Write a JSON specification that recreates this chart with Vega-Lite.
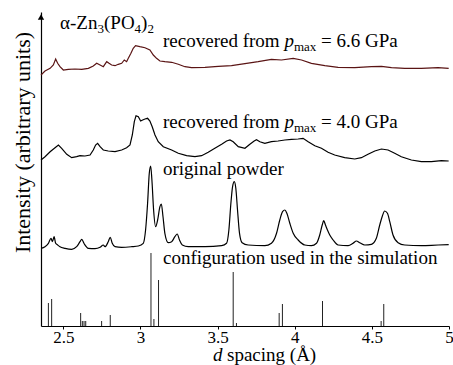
{
  "$schema": "https://vega.github.io/schema/vega-lite/v6.json",
  "width": 408,
  "height": 314,
  "autosize": {"type": "none"},
  "padding": {"left": 41, "top": 12, "right": 4, "bottom": 39},
  "background": "white",
  "config": {
    "view": {"stroke": null},
    "font": "Liberation Serif",
    "axis": {"labelFont": "Liberation Serif", "titleFont": "Liberation Serif", "domainColor": "black", "tickColor": "black", "labelColor": "black", "titleColor": "black"}
  },
  "datasets": {
    "p66": [
      {"d":2.355,"I":251},{"d":2.381,"I":255},{"d":2.414,"I":257.7},{"d":2.435,"I":261},{"d":2.450,"I":267},{"d":2.463,"I":262.7},{"d":2.478,"I":259.3},{"d":2.500,"I":256},{"d":2.532,"I":256.7},{"d":2.575,"I":257},{"d":2.619,"I":256.7},{"d":2.662,"I":257.7},{"d":2.694,"I":260},{"d":2.716,"I":262.7},{"d":2.738,"I":261},{"d":2.759,"I":259.3},{"d":2.781,"I":264.3},{"d":2.796,"I":262.7},{"d":2.813,"I":261},{"d":2.835,"I":260.3},{"d":2.856,"I":261.7},{"d":2.878,"I":262.7},{"d":2.895,"I":266},{"d":2.910,"I":264.3},{"d":2.921,"I":267.7},{"d":2.938,"I":272.7},{"d":2.953,"I":277.7},{"d":2.968,"I":280.3},{"d":2.996,"I":279.3},{"d":3.029,"I":278.3},{"d":3.061,"I":276},{"d":3.083,"I":271},{"d":3.104,"I":267.7},{"d":3.126,"I":265},{"d":3.158,"I":264.3},{"d":3.202,"I":263.7},{"d":3.245,"I":261.7},{"d":3.288,"I":259.3},{"d":3.331,"I":258.3},{"d":3.418,"I":258.7},{"d":3.504,"I":259.7},{"d":3.590,"I":260.3},{"d":3.677,"I":262.3},{"d":3.763,"I":264.3},{"d":3.849,"I":266.7},{"d":3.914,"I":266},{"d":3.990,"I":267.7},{"d":4.044,"I":266},{"d":4.108,"I":262.7},{"d":4.195,"I":260.3},{"d":4.281,"I":258.7},{"d":4.389,"I":258.3},{"d":4.497,"I":259.3},{"d":4.562,"I":259.7},{"d":4.627,"I":258.3},{"d":4.713,"I":257.7},{"d":4.821,"I":257.7},{"d":4.929,"I":258.3},{"d":4.998,"I":257.7}
    ],
    "p40": [
      {"d":2.355,"I":166},{"d":2.381,"I":169.3},{"d":2.414,"I":174.3},{"d":2.446,"I":178.3},{"d":2.468,"I":181},{"d":2.489,"I":177.7},{"d":2.522,"I":171.7},{"d":2.554,"I":168.3},{"d":2.586,"I":169.3},{"d":2.608,"I":170.3},{"d":2.640,"I":170},{"d":2.673,"I":171},{"d":2.694,"I":176},{"d":2.709,"I":181},{"d":2.722,"I":182.7},{"d":2.738,"I":179.3},{"d":2.759,"I":176},{"d":2.791,"I":175},{"d":2.835,"I":174.3},{"d":2.878,"I":176},{"d":2.910,"I":178.3},{"d":2.932,"I":181},{"d":2.947,"I":191},{"d":2.960,"I":204.3},{"d":2.971,"I":210.3},{"d":2.986,"I":209.3},{"d":3.001,"I":205},{"d":3.014,"I":206},{"d":3.029,"I":207},{"d":3.046,"I":207.7},{"d":3.061,"I":205},{"d":3.076,"I":199.3},{"d":3.094,"I":191},{"d":3.115,"I":184.3},{"d":3.148,"I":179.3},{"d":3.202,"I":176},{"d":3.245,"I":172.7},{"d":3.299,"I":170.3},{"d":3.353,"I":169.3},{"d":3.396,"I":170.3},{"d":3.439,"I":173.7},{"d":3.482,"I":177.7},{"d":3.526,"I":181.7},{"d":3.558,"I":185},{"d":3.580,"I":186},{"d":3.601,"I":184.3},{"d":3.634,"I":179.3},{"d":3.677,"I":177.7},{"d":3.709,"I":181.7},{"d":3.737,"I":185},{"d":3.752,"I":186.3},{"d":3.774,"I":184.3},{"d":3.806,"I":182.7},{"d":3.849,"I":184.3},{"d":3.892,"I":185},{"d":3.936,"I":186},{"d":3.979,"I":186.7},{"d":4.022,"I":187},{"d":4.054,"I":187.7},{"d":4.087,"I":184.3},{"d":4.130,"I":180.3},{"d":4.173,"I":177.7},{"d":4.216,"I":173.7},{"d":4.259,"I":171},{"d":4.324,"I":168.3},{"d":4.389,"I":167},{"d":4.432,"I":168.3},{"d":4.475,"I":171.7},{"d":4.519,"I":175},{"d":4.562,"I":177},{"d":4.605,"I":176},{"d":4.648,"I":172.7},{"d":4.691,"I":169.3},{"d":4.756,"I":166},{"d":4.821,"I":164.3},{"d":4.886,"I":164.3},{"d":4.951,"I":165.3},{"d":4.998,"I":165}
    ],
    "orig": [
      {"d":2.355,"I":77.7},{"d":2.381,"I":79.3},{"d":2.403,"I":82.7},{"d":2.420,"I":87.7},{"d":2.429,"I":84.3},{"d":2.440,"I":89.3},{"d":2.450,"I":82.7},{"d":2.463,"I":81},{"d":2.478,"I":79.3},{"d":2.511,"I":77.7},{"d":2.554,"I":76.7},{"d":2.586,"I":79.3},{"d":2.608,"I":84.3},{"d":2.619,"I":86.7},{"d":2.636,"I":82},{"d":2.662,"I":77.7},{"d":2.705,"I":77.3},{"d":2.738,"I":78.7},{"d":2.759,"I":81},{"d":2.770,"I":79.3},{"d":2.791,"I":84.3},{"d":2.804,"I":88.7},{"d":2.817,"I":82.7},{"d":2.835,"I":79.3},{"d":2.878,"I":78.7},{"d":2.943,"I":79.3},{"d":2.986,"I":80},{"d":3.018,"I":82.7},{"d":3.033,"I":96},{"d":3.046,"I":122.7},{"d":3.057,"I":152.7},{"d":3.066,"I":160},{"d":3.074,"I":146},{"d":3.085,"I":116},{"d":3.098,"I":99.3},{"d":3.111,"I":106},{"d":3.126,"I":119.3},{"d":3.135,"I":122},{"d":3.146,"I":109.3},{"d":3.158,"I":92.7},{"d":3.180,"I":83.3},{"d":3.202,"I":84.3},{"d":3.223,"I":89.3},{"d":3.238,"I":92},{"d":3.253,"I":86},{"d":3.271,"I":81},{"d":3.310,"I":79.3},{"d":3.418,"I":79.3},{"d":3.526,"I":80.3},{"d":3.558,"I":82.7},{"d":3.573,"I":96},{"d":3.586,"I":122.7},{"d":3.597,"I":139.3},{"d":3.608,"I":144.3},{"d":3.618,"I":137.7},{"d":3.629,"I":116},{"d":3.642,"I":92.7},{"d":3.659,"I":83.3},{"d":3.698,"I":81},{"d":3.806,"I":80.3},{"d":3.849,"I":82.7},{"d":3.882,"I":92.7},{"d":3.903,"I":106},{"d":3.921,"I":114.3},{"d":3.936,"I":116},{"d":3.949,"I":112.7},{"d":3.968,"I":102.7},{"d":3.990,"I":92.7},{"d":4.022,"I":86},{"d":4.065,"I":81},{"d":4.108,"I":80.3},{"d":4.141,"I":82.7},{"d":4.162,"I":91},{"d":4.178,"I":101},{"d":4.188,"I":105.3},{"d":4.199,"I":101},{"d":4.212,"I":96},{"d":4.227,"I":91},{"d":4.249,"I":86},{"d":4.281,"I":81},{"d":4.346,"I":80.3},{"d":4.378,"I":82.7},{"d":4.400,"I":85},{"d":4.421,"I":83.3},{"d":4.454,"I":81},{"d":4.497,"I":81.7},{"d":4.529,"I":87.7},{"d":4.551,"I":101},{"d":4.568,"I":110},{"d":4.583,"I":115},{"d":4.601,"I":112.7},{"d":4.616,"I":104.3},{"d":4.637,"I":91},{"d":4.670,"I":83.3},{"d":4.713,"I":81},{"d":4.821,"I":80.3},{"d":4.929,"I":81},{"d":4.998,"I":81.3}
    ],
    "sticks": [
      {"d":2.403,"I":23},{"d":2.424,"I":27},{"d":2.612,"I":13},{"d":2.623,"I":5},{"d":2.634,"I":5},{"d":2.645,"I":5},{"d":2.748,"I":5},{"d":2.804,"I":11},{"d":3.068,"I":73},{"d":3.087,"I":7},{"d":3.117,"I":46},{"d":3.601,"I":54},{"d":3.622,"I":3},{"d":3.899,"I":13},{"d":3.920,"I":22},{"d":4.180,"I":25},{"d":4.560,"I":5},{"d":4.577,"I":22}
    ],
    "txt": [
      {"d":2.4782,"I":296.7,"t":"α-Zn"},
      {"d":2.7634,"I":296.7,"t":"(PO"},
      {"d":3.0033,"I":296.7,"t":")"},
      {"d":3.1459,"I":279,"t":"recovered from"},
      {"d":4.170,"I":279,"t":"= 6.6 GPa"},
      {"d":3.1459,"I":197.7,"t":"recovered from"},
      {"d":4.170,"I":197.7,"t":"= 4.0 GPa"},
      {"d":3.1459,"I":151,"t":"original powder"},
      {"d":3.1459,"I":62.5,"t":"configuration used in the simulation"},
      {"d":3.561,"I":-35,"t":"spacing (Å)"}
    ],
    "ital": [
      {"d":3.933,"I":279,"t":"p"},
      {"d":3.933,"I":197.7,"t":"p"},
      {"d":3.470,"I":-35,"t":"d"}
    ],
    "sub": [
      {"d":2.7213,"I":292.7,"t":"3"},
      {"d":2.9618,"I":292.7,"t":"4"},
      {"d":3.0448,"I":292.7,"t":"2"},
      {"d":3.995,"I":275.5,"t":"max"},
      {"d":3.995,"I":194.2,"t":"max"}
    ],
    "arrow": [{"d":2.355,"I":309}]
  },
  "encoding": {
    "x": {"field": "d", "type": "quantitative", "scale": {"domain": [2.355, 5.0], "nice": false, "zero": false},
          "axis": {"title": null, "values": [2.5, 3, 3.5, 4, 4.5, 5], "format": "~g", "labelFontSize": 17, "labelPadding": 0, "tickSize": 3, "grid": false, "labelFlush": false, "domainWidth": 1.2}},
    "y": {"field": "I", "type": "quantitative", "scale": {"domain": [0, 314], "nice": false, "zero": false},
          "axis": {"title": "Intensity (arbitrary units)", "ticks": false, "labels": false, "grid": false, "titleFontSize": 22, "titleFontWeight": "normal", "titlePadding": 7, "titleY": 130, "domainWidth": 1.2}}
  },
  "layer": [
    {
      "data": {"name": "sticks"},
      "mark": {"type": "rule", "color": "#222222", "strokeWidth": 1},
      "encoding": {"y2": {"datum": 0}}
    },
    {
      "data": {"name": "orig"},
      "mark": {"type": "line", "color": "black", "strokeWidth": 1.2, "interpolate": "monotone"}
    },
    {
      "data": {"name": "p40"},
      "mark": {"type": "line", "color": "black", "strokeWidth": 1.2}
    },
    {
      "data": {"name": "p66"},
      "mark": {"type": "line", "color": "#5a1414", "strokeWidth": 1.2}
    },
    {
      "data": {"name": "arrow"},
      "mark": {"type": "point", "shape": "triangle-up", "filled": true, "color": "black", "size": 40, "opacity": 1}
    },
    {
      "data": {"name": "txt"},
      "mark": {"type": "text", "align": "left", "baseline": "alphabetic", "font": "Liberation Serif", "fontSize": 19, "color": "black"},
      "encoding": {"text": {"field": "t"}}
    },
    {
      "data": {"name": "ital"},
      "mark": {"type": "text", "align": "left", "baseline": "alphabetic", "font": "Liberation Serif", "fontSize": 19, "fontStyle": "italic", "color": "black"},
      "encoding": {"text": {"field": "t"}}
    },
    {
      "data": {"name": "sub"},
      "mark": {"type": "text", "align": "left", "baseline": "alphabetic", "font": "Liberation Serif", "fontSize": 13, "color": "black"},
      "encoding": {"text": {"field": "t"}}
    }
  ]
}
